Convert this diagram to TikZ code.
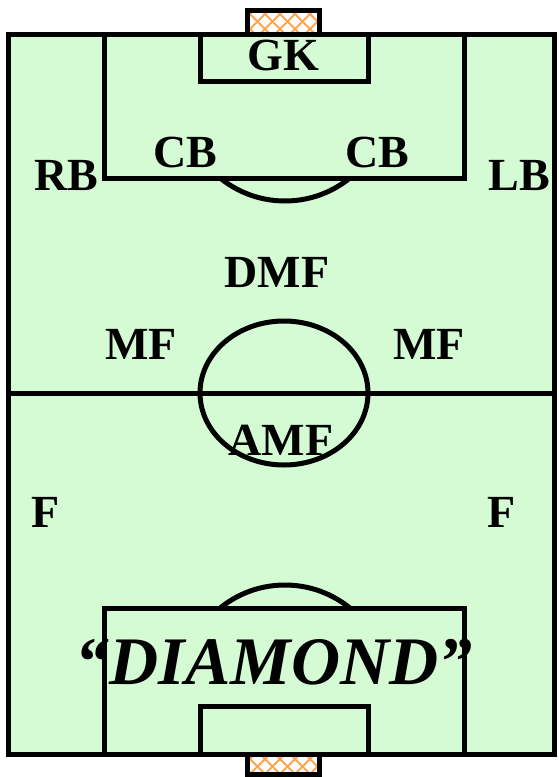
\documentclass[tikz,border=0pt]{standalone}
\usepackage{fontspec}
\setmainfont{Liberation Serif}
\definecolor{fieldgreen}{RGB}{212,251,212}
\definecolor{netorange}{RGB}{255,165,80}
\begin{document}
\begin{tikzpicture}[x=1pt,y=-1pt,line width=5pt,
  lbl/.style={font=\fontsize{46}{52}\selectfont\bfseries,inner sep=0pt},
  bigl/.style={font=\fontsize{68}{74}\selectfont\bfseries\itshape,inner sep=0pt},
  net/.style={netorange,line width=1.8pt}]
\useasboundingbox (0,0) rectangle (559,777);
% field
\fill[fieldgreen] (8,34) rectangle (554,754);
% goals nets
\foreach \gy/\gh in {9/34,754/775}{
  \begin{scope}
    \clip (247.5,\gy) rectangle (319.5,\gh);
    \foreach \gx in {190,205,...,340}{
      \draw[net] (\gx,\gy-10) -- (\gx+45,\gy+35);
      \draw[net] (\gx,\gy-10) -- (\gx-45,\gy+35);
    }
  \end{scope}
}
\draw (247.5,34) -- (247.5,10) -- (319.5,10) -- (319.5,34);
\draw (247.5,754) -- (247.5,774) -- (319.5,774) -- (319.5,754);
% lines
\draw (8,34) rectangle (554,754);
\draw (8,393) -- (554,393);
\draw (104,34) rectangle (464,178);
\draw (200,34) rectangle (368,81);
\draw (104,608) rectangle (464,754);
\draw (200,706) rectangle (368,754);
\draw (284,393) ellipse [x radius=84,y radius=72];
\begin{scope}
  \clip (0,178) rectangle (559,300);
  \draw (285,98) circle [radius=103];
\end{scope}
\begin{scope}
  \clip (0,500) rectangle (559,608);
  \draw (285,688) circle [radius=103];
\end{scope}
% labels
\node[lbl] (gk) at (283,55) {GK};
\node[lbl] (cbl) at (185,152) {CB};
\node[lbl] (cbr) at (377,152) {CB};
\node[lbl] (rb) at (66,176) {RB};
\node[lbl] (lb) at (519,176) {LB};
\node[lbl] (dmf) at (277,272) {DMF};
\node[lbl] (mfl) at (141,344) {MF};
\node[lbl] (mfr) at (429,344) {MF};
\node[lbl] (amf) at (281,440) {AMF};
\node[lbl] (fl) at (46,512) {F};
\node[lbl] (fr) at (502,512) {F};
\node[bigl] (diamond) at (274,662) {“DIAMOND”};
\end{tikzpicture}
\end{document}
